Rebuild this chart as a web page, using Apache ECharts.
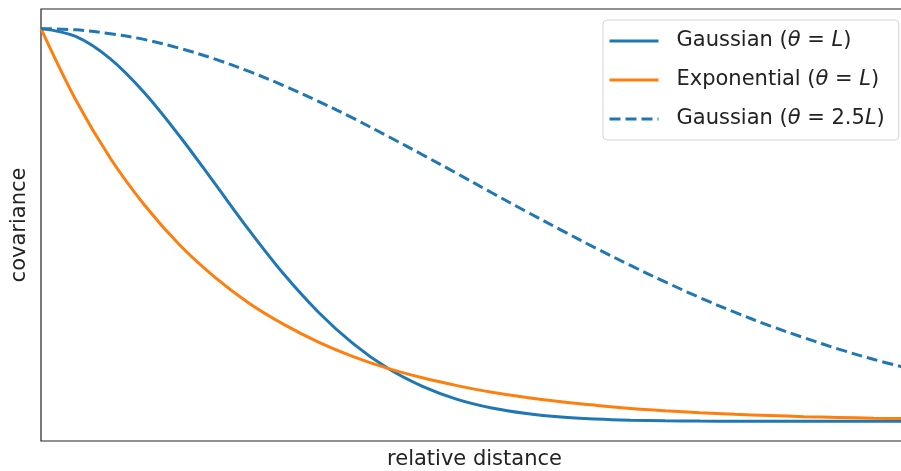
<!DOCTYPE html>
<html>
<head>
<meta charset="utf-8">
<script src="https://cdn.jsdelivr.net/npm/echarts@6/dist/echarts.min.js"></script>
<style>
  html, body { margin: 0; padding: 0; background: #fff; }
  #chart { width: 901px; height: 471px; }
</style>
</head>
<body>
<div id="chart"></div>
<script>
// relative distance (in units of L)
const distances = [0, 0.2, 0.4, 0.6, 0.8, 1.0, 1.2, 1.4, 1.6, 1.8, 2.0, 2.2, 2.4, 2.6, 2.8, 3.0, 3.2, 3.4, 3.6, 3.8, 4.0, 4.2, 4.4, 4.6, 4.8, 5.0];
// covariance values
const gaussianL = [1.000, 0.980, 0.923, 0.835, 0.726, 0.607, 0.487, 0.375, 0.278, 0.198, 0.135, 0.089, 0.056, 0.034, 0.020, 0.011, 0.006, 0.003, 0.0015, 0.0007, 0.0003, 0.0001, 0.0001, 0, 0, 0];
const exponentialL = [1.000, 0.819, 0.670, 0.549, 0.449, 0.368, 0.301, 0.247, 0.202, 0.165, 0.135, 0.111, 0.091, 0.074, 0.061, 0.050, 0.041, 0.033, 0.027, 0.022, 0.018, 0.015, 0.012, 0.010, 0.008, 0.007];
const gaussian25L = [1.000, 0.997, 0.987, 0.972, 0.950, 0.923, 0.891, 0.855, 0.815, 0.772, 0.726, 0.679, 0.631, 0.582, 0.534, 0.487, 0.441, 0.397, 0.355, 0.315, 0.278, 0.244, 0.213, 0.184, 0.158, 0.135];
const seriesNames = ['Gaussian (θ = L)', 'Exponential (θ = L)', 'Gaussian (θ = 2.5L)'];
const xLabel = 'relative distance';
const yLabel = 'covariance';

const FONT = 'DejaVu Sans';
const toPairs = (vals) => distances.map((d, i) => [d, vals[i]]);

const chart = echarts.init(document.getElementById('chart'), null, { renderer: 'canvas' });
const lineSeries = (name, vals, color, dash) => ({
  name, type: 'line', data: toPairs(vals),
  smooth: 0.35, showSymbol: false, symbol: 'none',
  lineStyle: { color, width: 3, type: dash || 'solid' },
  itemStyle: { color }
});
chart.setOption({
  animation: false,
  backgroundColor: '#ffffff',
  grid: {
    left: 41, top: 9, right: -7, bottom: 30,
    outerBoundsMode: 'none', containLabel: false,
    show: true, borderColor: '#222', borderWidth: 1.2, backgroundColor: 'transparent'
  },
  xAxis: {
    type: 'value', min: 0, max: 5,
    name: xLabel, nameLocation: 'middle', nameGap: 8,
    nameTextStyle: { fontFamily: FONT, fontSize: 21, color: '#222' },
    axisLine: { show: false }, axisTick: { show: false }, axisLabel: { show: false },
    splitLine: { show: false }
  },
  yAxis: {
    type: 'value', min: -0.05, max: 1.05,
    name: yLabel, nameLocation: 'middle', nameGap: 11, nameRotate: 90,
    nameTextStyle: { fontFamily: FONT, fontSize: 21, color: '#222' },
    axisLine: { show: false }, axisTick: { show: false }, axisLabel: { show: false },
    splitLine: { show: false }
  },
  legend: {
    orient: 'vertical',
    left: 603, top: 20,
    padding: [9, 14, 9, 5],
    itemWidth: 49, itemHeight: 14, itemGap: 15,
    backgroundColor: 'rgba(255,255,255,0.8)',
    borderColor: '#d5d5d5', borderWidth: 1, borderRadius: 4,
    itemStyle: { opacity: 0 },
    lineStyle: { width: 3 },
    data: seriesNames,
    formatter: (name) => name.replace(/θ/g, '{i|θ}').replace(/L\)/g, '{i|L})'),
    textStyle: {
      fontFamily: FONT, fontSize: 21, color: '#222', padding: [0, 0, 0, 13],
      lineHeight: 24,
      rich: { i: { fontFamily: FONT, fontSize: 21, fontStyle: 'italic', color: '#222', lineHeight: 24 } }
    }
  },
  series: [
    lineSeries(seriesNames[0], gaussianL, '#1f77b4'),
    lineSeries(seriesNames[1], exponentialL, '#ff7f0e'),
    lineSeries(seriesNames[2], gaussian25L, '#1f77b4', [11, 5])
  ]
});
</script>
</body>
</html>
